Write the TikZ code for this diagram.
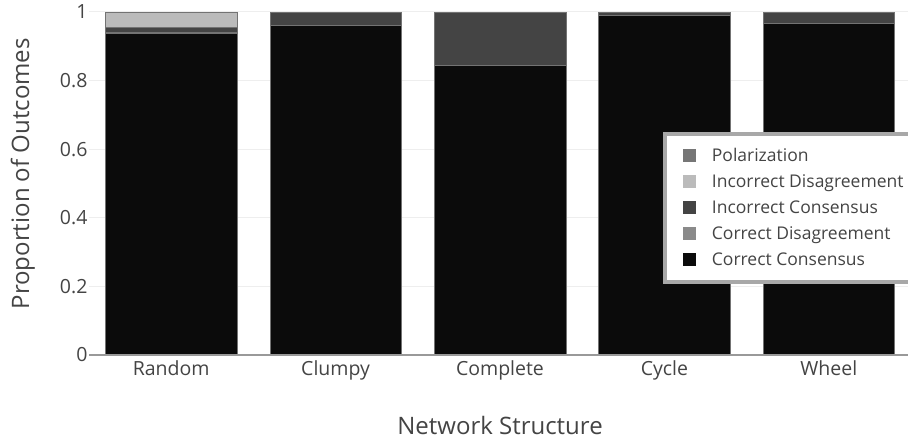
\documentclass[tikz,border=0pt]{standalone}
\usepackage{fontspec}
\setmainfont{Open Sans}
\usepackage{tikz}
\usetikzlibrary{calc}

\definecolor{txtgray}{HTML}{444444}
\definecolor{ccons}{HTML}{0B0B0B}
\definecolor{cdis}{HTML}{8A8A8A}
\definecolor{icons}{HTML}{444444}
\definecolor{idis}{HTML}{BBBBBB}
\definecolor{polar}{HTML}{767676}
\definecolor{gridgray}{HTML}{EEEEEE}
\definecolor{zerogray}{HTML}{999999}
\definecolor{legframe}{HTML}{A8A8A8}

\begin{document}
\begin{tikzpicture}[x=1pt,y=1pt,
	every node/.style={text=txtgray, inner sep=0pt},
	ticklbl/.style={font=\fontsize{19.5}{22}\selectfont},
	axtitle/.style={font=\fontsize{24}{26}\selectfont},
	leglbl/.style={font=\fontsize{17.5}{20}\selectfont, anchor=base west},
	legmark/.style={minimum size=13pt, draw=none},
	seg/.style={draw=black!55, line width=0.45pt},
	grid line/.style={gridgray, line width=1pt}]
	
	\useasboundingbox (0,0) rectangle (908,443);
	\fill[white] (0,0) rectangle (908,443);
	
	\begin{scope}[shift={(89,88)}, x=164.4pt, y=343pt]
		% grid
		\draw[grid line] (0,0.2) -- (5,0.2);
		\draw[grid line] (0,0.4) -- (5,0.4);
		\draw[grid line] (0,0.6) -- (5,0.6);
		\draw[grid line] (0,0.8) -- (5,0.8);
		\draw[grid line] (0,1) -- (5,1);
		
		% Random
		\filldraw[seg, fill=ccons] (0.1,0) rectangle (0.9,0.938);
		\filldraw[seg, fill=cdis] (0.1,0.938) rectangle (0.9,0.942);
		\filldraw[seg, fill=icons] (0.1,0.942) rectangle (0.9,0.957);
		\filldraw[seg, fill=idis] (0.1,0.957) rectangle (0.9,1);
		% Clumpy
		\filldraw[seg, fill=ccons] (1.1,0) rectangle (1.9,0.961);
		\filldraw[seg, fill=icons] (1.1,0.961) rectangle (1.9,1);
		% Complete
		\filldraw[seg, fill=ccons] (2.1,0) rectangle (2.9,0.845);
		\filldraw[seg, fill=icons] (2.1,0.845) rectangle (2.9,1);
		% Cycle
		\filldraw[seg, fill=ccons] (3.1,0) rectangle (3.9,0.992);
		\filldraw[seg, fill=icons] (3.1,0.992) rectangle (3.9,1);
		% Wheel
		\filldraw[seg, fill=ccons] (4.1,0) rectangle (4.9,0.967);
		\filldraw[seg, fill=icons] (4.1,0.967) rectangle (4.9,1);
		
		\draw[zerogray, line width=1.5pt] (0,0) -- (5,0);
		
		% y ticks
		\node[ticklbl, anchor=east] (ytick0) at (-0.008,0) {0};
		\node[ticklbl, anchor=east] (ytick1) at (-0.008,0.2) {0.2};
		\node[ticklbl, anchor=east] (ytick2) at (-0.008,0.4) {0.4};
		\node[ticklbl, anchor=east] (ytick3) at (-0.008,0.6) {0.6};
		\node[ticklbl, anchor=east] (ytick4) at (-0.008,0.8) {0.8};
		\node[ticklbl, anchor=east] (ytick5) at (-0.008,1) {1};
		
		% x ticks
		\node[ticklbl, anchor=base] (xrandom) at (0.5,-0.0612) {Random};
		\node[ticklbl, anchor=base] (xclumpy) at (1.5,-0.0612) {Clumpy};
		\node[ticklbl, anchor=base] (xcomplete) at (2.5,-0.0612) {Complete};
		\node[ticklbl, anchor=base] (xcycle) at (3.5,-0.0612) {Cycle};
		\node[ticklbl, anchor=base] (xwheel) at (4.5,-0.0612) {Wheel};
	\end{scope}
	
	% axis titles
	\node[axtitle, anchor=base] (xtitle) at (500,8) {Network Structure};
	\node[axtitle, rotate=90, anchor=base] (ytitle) at (29,269.3) {Proportion of Outcomes};
	
	% legend
	\filldraw[draw=legframe, fill=white, line width=3.5pt] (665,309) rectangle (912,161);
	\node[legmark, fill=polar] (mpolar) at (689.3,287.3) {};
	\node[legmark, fill=idis] (midis) at (689.3,261.3) {};
	\node[legmark, fill=icons] (micons) at (689.3,235.3) {};
	\node[legmark, fill=cdis] (mcdis) at (689.3,209.3) {};
	\node[legmark, fill=ccons] (mccons) at (689.3,183.3) {};
	\node[leglbl] (lpolar) at (711.7,281.3) {Polarization};
	\node[leglbl] (lidis) at (711.7,255.3) {Incorrect Disagreement};
	\node[leglbl] (licons) at (711.7,229.3) {Incorrect Consensus};
	\node[leglbl] (lcdis) at (711.7,203.3) {Correct Disagreement};
	\node[leglbl] (lccons) at (711.7,177.3) {Correct Consensus};
	
\end{tikzpicture}
\end{document}
